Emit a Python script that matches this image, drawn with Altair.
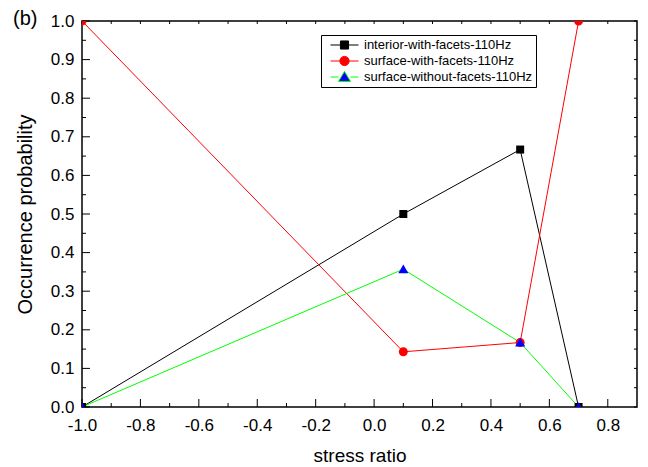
import altair as alt
import pandas as pd

# ---------------- data ----------------
series_names = [
    "interior-with-facets-110Hz",
    "surface-with-facets-110Hz",
    "surface-without-facets-110Hz",
]
stress_ratio = [-1.0, 0.1, 0.5, 0.7]
interior_with = [0.0, 0.5, 0.667, 0.0]
surface_with = [1.0, 0.143, 0.167, 1.0]
surface_without = [0.0, 0.357, 0.167, 0.0]

line_colors = ["#000000", "#ff0000", "#00ff00"]
marker_colors = ["#000000", "#ff0000", "#0000ff"]
marker_shapes = [
    "M-0.8,-0.8H0.8V0.8H-0.8Z",
    "M0.9,0A0.9,0.9,0,1,1,-0.9,0A0.9,0.9,0,1,1,0.9,0Z",
    "M0,-0.95L1,0.8H-1Z",
]
legend_shapes = [
    "M-1,0H-0.29M0.29,0H1M-0.29,-0.29H0.29V0.29H-0.29Z",
    "M-1,0H-0.33M0.33,0H1M0.33,0A0.33,0.33,0,1,1,-0.33,0A0.33,0.33,0,1,1,0.33,0Z",
    "M-1,0H-0.43M0.43,0H1M0,-0.4L0.43,0.32H-0.43Z",
]

x_major = [-1.0, -0.8, -0.6, -0.4, -0.2, 0.0, 0.2, 0.4, 0.6, 0.8]
x_minor = [-0.9, -0.7, -0.5, -0.3, -0.1, 0.1, 0.3, 0.5, 0.7]
y_major = [0.0, 0.1, 0.2, 0.3, 0.4, 0.5, 0.6, 0.7, 0.8, 0.9, 1.0]
y_minor = [0.05, 0.15, 0.25, 0.35, 0.45, 0.55, 0.65, 0.75, 0.85, 0.95]
panel_label = ["(b)"]

rows = []
for name, vals in zip(series_names, [interior_with, surface_with, surface_without]):
    for i, (xv, yv) in enumerate(zip(stress_ratio, vals)):
        rows.append({"series": name, "x": xv, "y": yv, "order": i})
df = pd.DataFrame(rows)

# ---------------- layout ----------------
W, H = 555, 386
FONT = "Liberation Sans"
xs = alt.Scale(domain=[-1.0, 0.9], nice=False, zero=False)
ys = alt.Scale(domain=[0.0, 1.0], nice=False, zero=False)
lab_expr = "(datum.value < 0 ? '-' : '') + format(abs(datum.value), '.1f')"

x_axis = alt.Axis(
    values=x_major, labelExpr=lab_expr, title="stress ratio", ticks=False,
    domain=False, grid=False, labelFont=FONT, labelFontSize=17, labelPadding=10,
    labelColor="black", titleFont=FONT, titleFontSize=19, titleFontWeight="normal",
    titleColor="black", titlePadding=13, labelFlush=False, labelOverlap=False,
)
y_axis = alt.Axis(
    values=y_major, labelExpr=lab_expr, title="Occurrence probability", ticks=False,
    domain=False, grid=False, labelFont=FONT, labelFontSize=17, labelPadding=8,
    labelColor="black", titleFont=FONT, titleFontSize=20, titleFontWeight="normal",
    titleColor="black", titlePadding=15, labelFlush=False, labelOverlap=False,
)

def X(field):
    return alt.X(field, scale=xs, axis=x_axis)

def Y(field):
    return alt.Y(field, scale=ys, axis=y_axis)

def xticks(vals, y0, y1):
    return alt.Chart(pd.DataFrame({"v": vals})).mark_rule(color="black", strokeWidth=1).encode(
        x=X("v:Q"), y=alt.value(y0), y2=alt.value(y1)
    )

def yticks(vals, x0, x1):
    return alt.Chart(pd.DataFrame({"v": vals})).mark_rule(color="black", strokeWidth=1).encode(
        y=Y("v:Q"), x=alt.value(x0), x2=alt.value(x1)
    )

ticks = [
    xticks(x_major, H, H - 8),
    xticks(x_minor, H, H - 4),
    xticks(x_major + x_minor, 0, 3),
    yticks(y_major, 0, 8),
    yticks(y_minor, 0, 4),
    yticks(y_major + y_minor, W, W - 3),
]

base = alt.Chart(df)

lines = base.mark_line(strokeWidth=1, clip=True).encode(
    x=X("x:Q"),
    y=Y("y:Q"),
    stroke=alt.Stroke("series:N", scale=alt.Scale(domain=series_names, range=line_colors), legend=None),
    order="order:Q",
)

points = base.mark_point(filled=True, clip=True, opacity=1, strokeWidth=0, size=100).encode(
    x=X("x:Q"),
    y=Y("y:Q"),
    shape=alt.Shape("series:N", scale=alt.Scale(domain=series_names, range=marker_shapes), legend=None),
    fill=alt.Fill("series:N", scale=alt.Scale(domain=series_names, range=marker_colors), legend=None),
)

def leg():
    return alt.Legend(
        orient="none", legendX=239, legendY=14, title=None, strokeColor="black",
        fillColor="white", padding=3, symbolSize=784, symbolStrokeWidth=1,
        clipHeight=14, rowPadding=2, labelFont=FONT, labelFontSize=13,
        labelColor="black", labelOffset=5, symbolOffset=6, labelLimit=400,
    )

legend_layer = base.transform_filter("false").mark_point(filled=True, opacity=1, strokeWidth=1).encode(
    x=X("x:Q"),
    y=Y("y:Q"),
    shape=alt.Shape("series:N", scale=alt.Scale(domain=series_names, range=legend_shapes), legend=leg()),
    fill=alt.Fill("series:N", scale=alt.Scale(domain=series_names, range=marker_colors), legend=leg()),
    stroke=alt.Stroke("series:N", scale=alt.Scale(domain=series_names, range=line_colors), legend=leg()),
)

label = alt.Chart(pd.DataFrame({"t": panel_label})).mark_text(
    font=FONT, fontSize=20, align="left", baseline="alphabetic", color="black"
).encode(text="t:N", x=alt.value(-69), y=alt.value(4))

chart = (
    alt.layer(*ticks, lines, points, legend_layer, label)
    .resolve_scale(shape="independent", fill="independent", stroke="independent")
    .properties(
        width=W, height=H,
        autosize=alt.AutoSizeParams(type="none"),
        padding={"left": 74, "top": 13, "right": 3, "bottom": 58},
        background="white",
    )
    .configure_view(stroke="black", strokeWidth=1.5)
)

chart.save("out.html", embed_options={"renderer": "svg", "actions": False})
